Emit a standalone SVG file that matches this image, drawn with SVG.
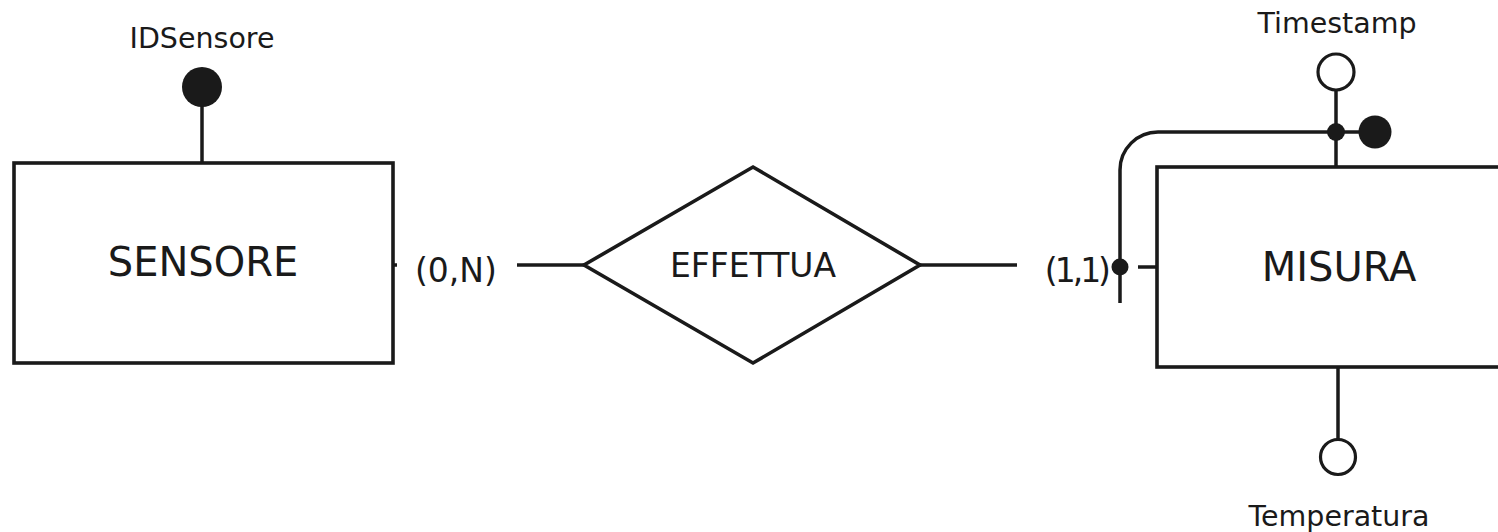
<svg xmlns="http://www.w3.org/2000/svg" width="1498" height="532" viewBox="0 0 1498 532">
<style>
.ln{stroke:#1a1a1a;stroke-width:3.5;fill:none}
.box{stroke:#1a1a1a;stroke-width:3.6;fill:#fff}
.dot{fill:#1a1a1a}
.open{fill:#fff;stroke:#1a1a1a;stroke-width:3.2}
text{font-family:"DejaVu Sans","Liberation Sans",sans-serif;fill:#1a1a1a}
.ent{font-size:40px}
.rel{font-size:33px}
.card{font-size:33px}
.attr{font-size:28.5px}
</style>
<rect width="1498" height="532" fill="#fff"/>
<g id="connectors">
<line class="ln" x1="202" y1="105" x2="202" y2="163"/>
<line class="ln" x1="393" y1="265" x2="397" y2="265"/>
<line class="ln" x1="517" y1="265" x2="584" y2="265"/>
<line class="ln" x1="920" y1="265" x2="1017" y2="265"/>
<line class="ln" x1="1138" y1="267" x2="1157" y2="267"/>
<path class="ln" d="M1120 303 L1120 170 A38 38 0 0 1 1158 132 L1375 132"/>
<line class="ln" x1="1336" y1="90" x2="1336" y2="167"/>
<line class="ln" x1="1338" y1="367" x2="1338" y2="439"/>
<circle class="dot" cx="1120" cy="267" r="8.5"/>
<circle class="dot" cx="1336" cy="132" r="9"/>
</g>
<g id="sensore">
<rect class="box" x="14" y="163" width="379" height="200"/>
<text class="ent" x="203" y="276" text-anchor="middle">SENSORE</text>
</g>
<g id="idsensore">
<circle class="dot" cx="202" cy="87" r="20"/>
<text class="attr" x="202" y="48" text-anchor="middle">IDSensore</text>
</g>
<g id="effettua">
<polygon class="box" points="753,167 920,265 753,363 584,265"/>
<text class="rel" x="753" y="277" text-anchor="middle">EFFETTUA</text>
</g>
<g id="card-sensore">
<text class="card" x="415" y="282">(0,N)</text>
</g>
<g id="card-misura">
<text class="card" x="1108" y="282" text-anchor="end" letter-spacing="-3">(1,1)</text>
</g>
<g id="misura">
<rect class="box" x="1157" y="167" width="360" height="200"/>
<text class="ent" x="1339" y="281" text-anchor="middle">MISURA</text>
</g>
<g id="timestamp">
<circle class="open" cx="1336" cy="72" r="18"/>
<text class="attr" x="1337" y="33" text-anchor="middle">Timestamp</text>
</g>
<g id="id-misura">
<circle class="dot" cx="1375" cy="132" r="16.5"/>
</g>
<g id="temperatura">
<circle class="open" cx="1338" cy="457" r="17.5"/>
<text class="attr" x="1339" y="526" text-anchor="middle">Temperatura</text>
</g>
</svg>
